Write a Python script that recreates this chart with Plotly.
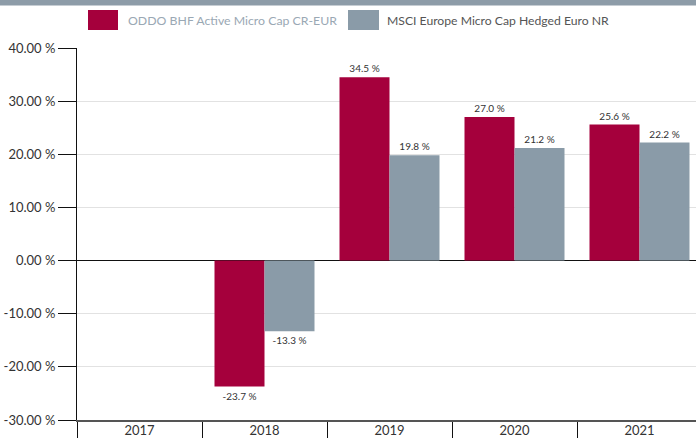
import plotly.graph_objects as go

years = ["2017", "2018", "2019", "2020", "2021"]
fund_name = "ODDO BHF Active Micro Cap CR-EUR"
bench_name = "MSCI Europe Micro Cap Hedged Euro NR"
fund_values = [None, -23.7, 34.5, 27.0, 25.6]
bench_values = [None, -13.3, 19.8, 21.2, 22.2]
y_ticks = [-30, -20, -10, 0, 10, 20, 30, 40]
y_ticktext = [f"{v:.2f} %" for v in y_ticks]

RED = "#a5003c"
GREY = "#8a9ba8"
TOPBAR = "#8d9ca8"
FONT = "Lato"

W, H = 696, 438
ML, MR, MT, MB = 77, 0, 48, 18
PW, PH = W - ML - MR, H - MT - MB


def lbl(vals):
    return ["" if v is None else f"{v:.1f} %" for v in vals]


fig = go.Figure()
fig.add_trace(go.Bar(x=years, y=fund_values, name=fund_name, marker_color=RED,
                     marker_line_width=0, text=lbl(fund_values), texttemplate="%{text}",
                     textposition="outside", cliponaxis=False, constraintext="none",
                     textfont=dict(size=10, color="#333333", family=FONT)))
fig.add_trace(go.Bar(x=years, y=bench_values, name=bench_name, marker_color=GREY,
                     marker_line_width=0, text=lbl(bench_values), texttemplate="%{text}",
                     textposition="outside", cliponaxis=False, constraintext="none",
                     textfont=dict(size=10, color="#333333", family=FONT)))


def px_x(p):
    return (p - ML) / PW


def px_y(p):
    return (H - MB - p) / PH


shapes = [
    dict(type="rect", xref="paper", yref="paper", x0=px_x(-2), x1=px_x(W + 2), y0=px_y(5.5), y1=px_y(-3),
         fillcolor=TOPBAR, line_width=0, layer="above"),
    dict(type="rect", xref="paper", yref="paper", x0=px_x(88), x1=px_x(118), y0=px_y(30), y1=px_y(10),
         fillcolor=RED, line_width=0),
    dict(type="rect", xref="paper", yref="paper", x0=px_x(348), x1=px_x(379), y0=px_y(30), y1=px_y(10),
         fillcolor=GREY, line_width=0),
]
annotations = [
    dict(xref="paper", yref="paper", x=px_x(126), y=px_y(20), text=fund_name, showarrow=False,
         xanchor="left", yanchor="middle", xshift=0, font=dict(size=12.3, color="#9aa8b4", family=FONT)),
    dict(xref="paper", yref="paper", x=px_x(385), y=px_y(20), text=bench_name, showarrow=False,
         xanchor="left", yanchor="middle", font=dict(size=12.2, color="#555555", family=FONT)),
]

fig.update_layout(
    width=W, height=H,
    margin=dict(l=ML, r=MR, t=MT, b=MB, pad=0, autoexpand=False),
    paper_bgcolor="white", plot_bgcolor="white",
    barmode="group", bargap=0.2, bargroupgap=0,
    showlegend=False,
    font=dict(family=FONT, size=12, color="#333333"),
    shapes=shapes, annotations=annotations,
    xaxis=dict(type="category", range=[-0.5, -0.5 + PW / 125], showgrid=False, automargin=False,
               showline=True, linecolor="#555555", linewidth=2,
               ticks="outside", tickson="boundaries", ticklen=18, tickcolor="#111111", tickwidth=1,
               ticklabelstandoff=-3, tickfont=dict(size=13, color="#333333"), zeroline=False),
    yaxis=dict(range=[-30, 40], tickvals=y_ticks, ticktext=y_ticktext, automargin=False,
               showgrid=True, gridcolor="#e2e2e2", gridwidth=1,
               zeroline=True, zerolinecolor="#111111", zerolinewidth=1,
               showline=True, linecolor="#111111", linewidth=1,
               ticks="outside", ticklen=18, tickcolor="#111111", tickwidth=1,
               tickfont=dict(size=13, color="#333333")),
)

fig.write_html(
    "out.html", config={"displayModeBar": False},
    post_script=("document.body.style.margin='0';"
                 "document.body.style.borderTop='0';"
                 "document.documentElement.style.background='white';"
                 "var b=document.createElement('div');"
                 "b.style.cssText='position:fixed;left:0;top:0;width:100%;height:5px;"
                 "background:" + TOPBAR + ";z-index:10;pointer-events:none';"
                 "document.body.appendChild(b);"),
)
